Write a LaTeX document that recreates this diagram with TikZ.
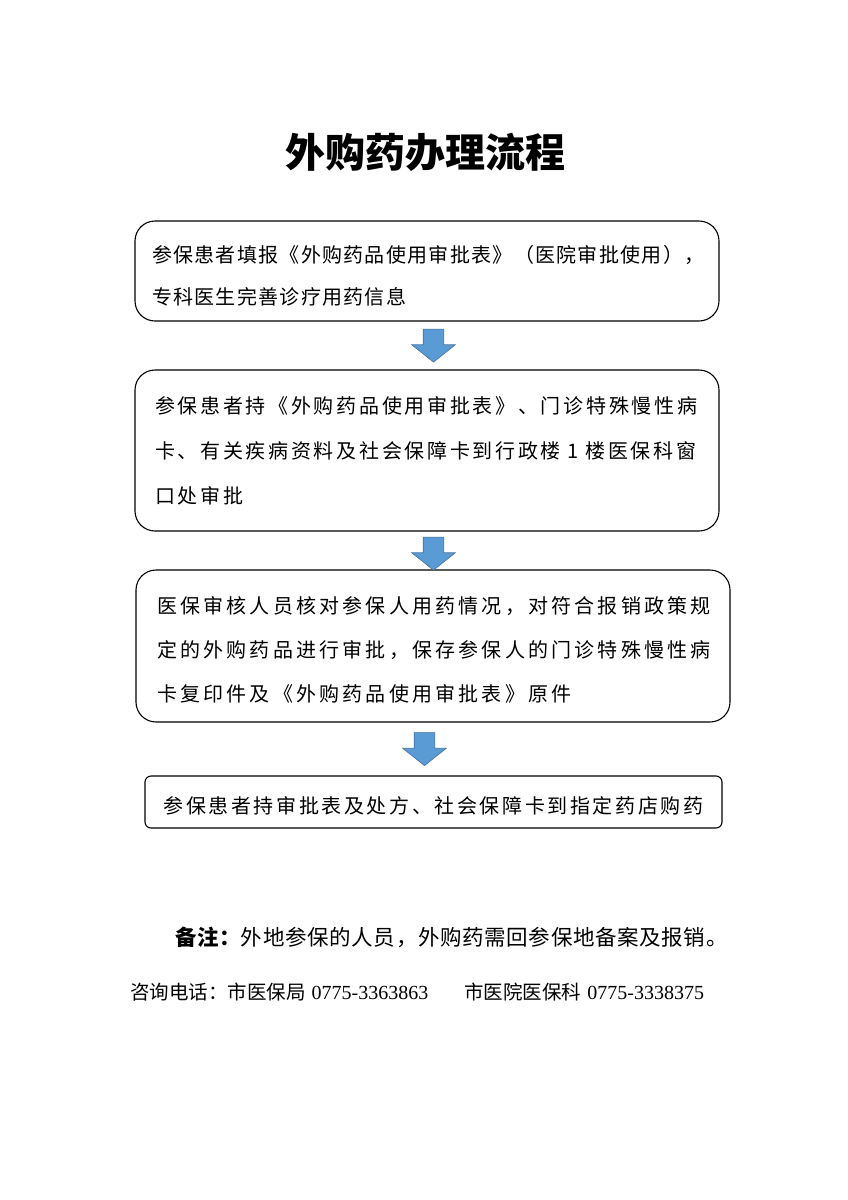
\documentclass[tikz,border=0pt]{standalone}
\usepackage{fontspec}
\usepackage{tikz}
\usetikzlibrary{shapes.arrows}
\newfontfamily\cjk{Noto Sans CJK SC}
\newfontfamily\numfont{Liberation Serif}
\definecolor{arrowblue}{HTML}{5B9BD5}
\definecolor{arrowedge}{HTML}{41719C}

\begin{document}
\begin{tikzpicture}[x=1pt,y=-1pt]
\tikzset{
  stepbox/.style={draw=black,line width=1.1pt,rounded corners=20pt,inner sep=0pt},
  steptext/.style={inner sep=0pt,align=left},
  downarrow/.style={single arrow,shape border rotate=270,fill=arrowblue,draw=arrowedge,line width=0.6pt,
    inner sep=10pt,minimum height=33pt,single arrow head extend=11.5pt,single arrow tip angle=103}
}
\useasboundingbox (0,0) rectangle (848,1200);
% title
\node (title) at (425,152) {\cjk\fontsize{40}{44}\selectfont\bfseries 外购药办理流程};
% steps
\node [stepbox,minimum width=584pt,minimum height=100pt] (apply) at (427,271) {};
\node [steptext,text width=550pt,font=\cjk\fontsize{20}{42}\selectfont\addfontfeature{LetterSpace=6.5}]
  (applytext) at ([yshift=-5pt]apply.center)
  {参保患者填报《外购药品使用审批表》（医院审批使用），\\专科医生完善诊疗用药信息};
\node [stepbox,minimum width=584pt,minimum height=161pt] (submit) at (427,450.5) {};
\node [steptext,text width=544pt,font=\cjk\fontsize{20}{45}\selectfont\addfontfeature{LetterSpace=13.5}]
  (submittext) at (submit.center)
  {参保患者持《外购药品使用审批表》、门诊特殊慢性病\\卡、有关疾病资料及社会保障卡到行政楼 1 楼医保科窗\\口处审批};
\node [stepbox,minimum width=594pt,minimum height=152pt] (check) at (433,646) {};
\node [steptext,text width=552pt,font=\cjk\fontsize{20}{44}\selectfont\addfontfeature{LetterSpace=16}]
  (checktext) at ([yshift=-4pt]check.center)
  {医保审核人员核对参保人用药情况，对符合报销政策规\\定的外购药品进行审批，保存参保人的门诊特殊慢性病\\卡复印件及《外购药品使用审批表》原件};
\node [stepbox,rounded corners=6pt,minimum width=577pt,minimum height=52pt] (buy) at (433.5,802) {};
\node [steptext,font=\cjk\fontsize{20}{24}\selectfont\addfontfeature{LetterSpace=13}]
  (buytext) at ([yshift=-4pt]buy.center)
  {参保患者持审批表及处方、社会保障卡到指定药店购药};
% arrows
\node [downarrow] (arr1) at (433.5,341.5) {};
\node [downarrow] (arr2) at (433.5,549.5) {};
\node [downarrow] (arr3) at (424.5,745) {};
% notes
\node [anchor=west,inner sep=0pt,font=\cjk\fontsize{21.5}{24}\selectfont\addfontfeature{LetterSpace=3}] (note) at (175,937)
  {\bfseries 备注：\mdseries 外地参保的人员，外购药需回参保地备案及报销。};
\node [anchor=west,inner sep=0pt,font=\cjk\fontsize{19.5}{22}\selectfont] (phone) at (130,992)
  {咨询电话：市医保局\hspace{6pt}{\numfont\fontsize{20}{22}\selectfont 0775-3363863}\hspace{36pt}市医院医保科\hspace{6pt}{\numfont\fontsize{20}{22}\selectfont 0775-3338375}};
\end{tikzpicture}
\end{document}
